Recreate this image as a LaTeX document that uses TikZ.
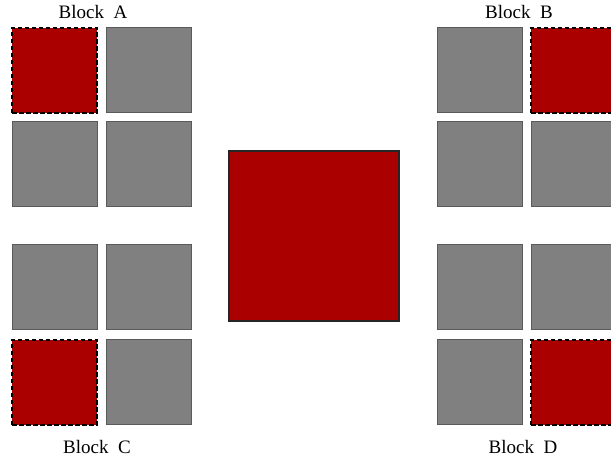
\documentclass[tikz,border=0pt]{standalone}
\usepackage{fontspec}
\setmainfont{Liberation Serif}
\usepackage{xcolor}
\usetikzlibrary{positioning}
\definecolor{blockRed}{RGB}{170,0,0}
\definecolor{blockGray}{RGB}{128,128,128}
\definecolor{blockEdge}{RGB}{90,90,90}

\begin{document}
\begin{tikzpicture}[x=1pt,y=1pt,
    cell/.style={draw=blockEdge, fill=blockGray, line width=1pt, minimum size=85pt, inner sep=0pt},
    hot/.style={cell, draw=black, fill=blockRed, line width=1.3pt, dash pattern=on 4.5pt off 2.5pt},
    big/.style={draw=black!85, fill=blockRed, line width=1.1pt, minimum size=170pt, inner sep=0pt},
    tag/.style={font=\fontsize{19}{22}\selectfont, inner sep=0pt}]
    \useasboundingbox (0,0) rectangle (611,463);
    \clip (0,0) rectangle (611,463);

    % Block A
    \node[hot]  (a11) at (54.5,392.5) {};
    \node[cell] (a12) at (148.5,392.5) {};
    \node[cell] (a21) at (54.5,298.5) {};
    \node[cell] (a22) at (148.5,298.5) {};
    \node[tag] (labA) at (93,451) {Block\ \ A};

    % Block C
    \node[cell] (c11) at (54.5,175.5) {};
    \node[cell] (c12) at (148.5,175.5) {};
    \node[hot]  (c21) at (54.5,80.5) {};
    \node[cell] (c22) at (148.5,80.5) {};
    \node[tag] (labC) at (97,16) {Block\ \ C};

    % Block B
    \node[cell] (b11) at (479.5,392.5) {};
    \node[hot]  (b12) at (573.5,392.5) {};
    \node[cell] (b21) at (479.5,298.5) {};
    \node[cell] (b22) at (573.5,298.5) {};
    \node[tag] (labB) at (519,451) {Block\ \ B};

    % Block D
    \node[cell] (d11) at (479.5,175.5) {};
    \node[cell] (d12) at (573.5,175.5) {};
    \node[cell] (d21) at (479.5,80.5) {};
    \node[hot]  (d22) at (573.5,80.5) {};
    \node[tag] (labD) at (523,16) {Block\ \ D};

    % merged block
    \node[big] (merged) at (314,227) {};
\end{tikzpicture}
\end{document}
